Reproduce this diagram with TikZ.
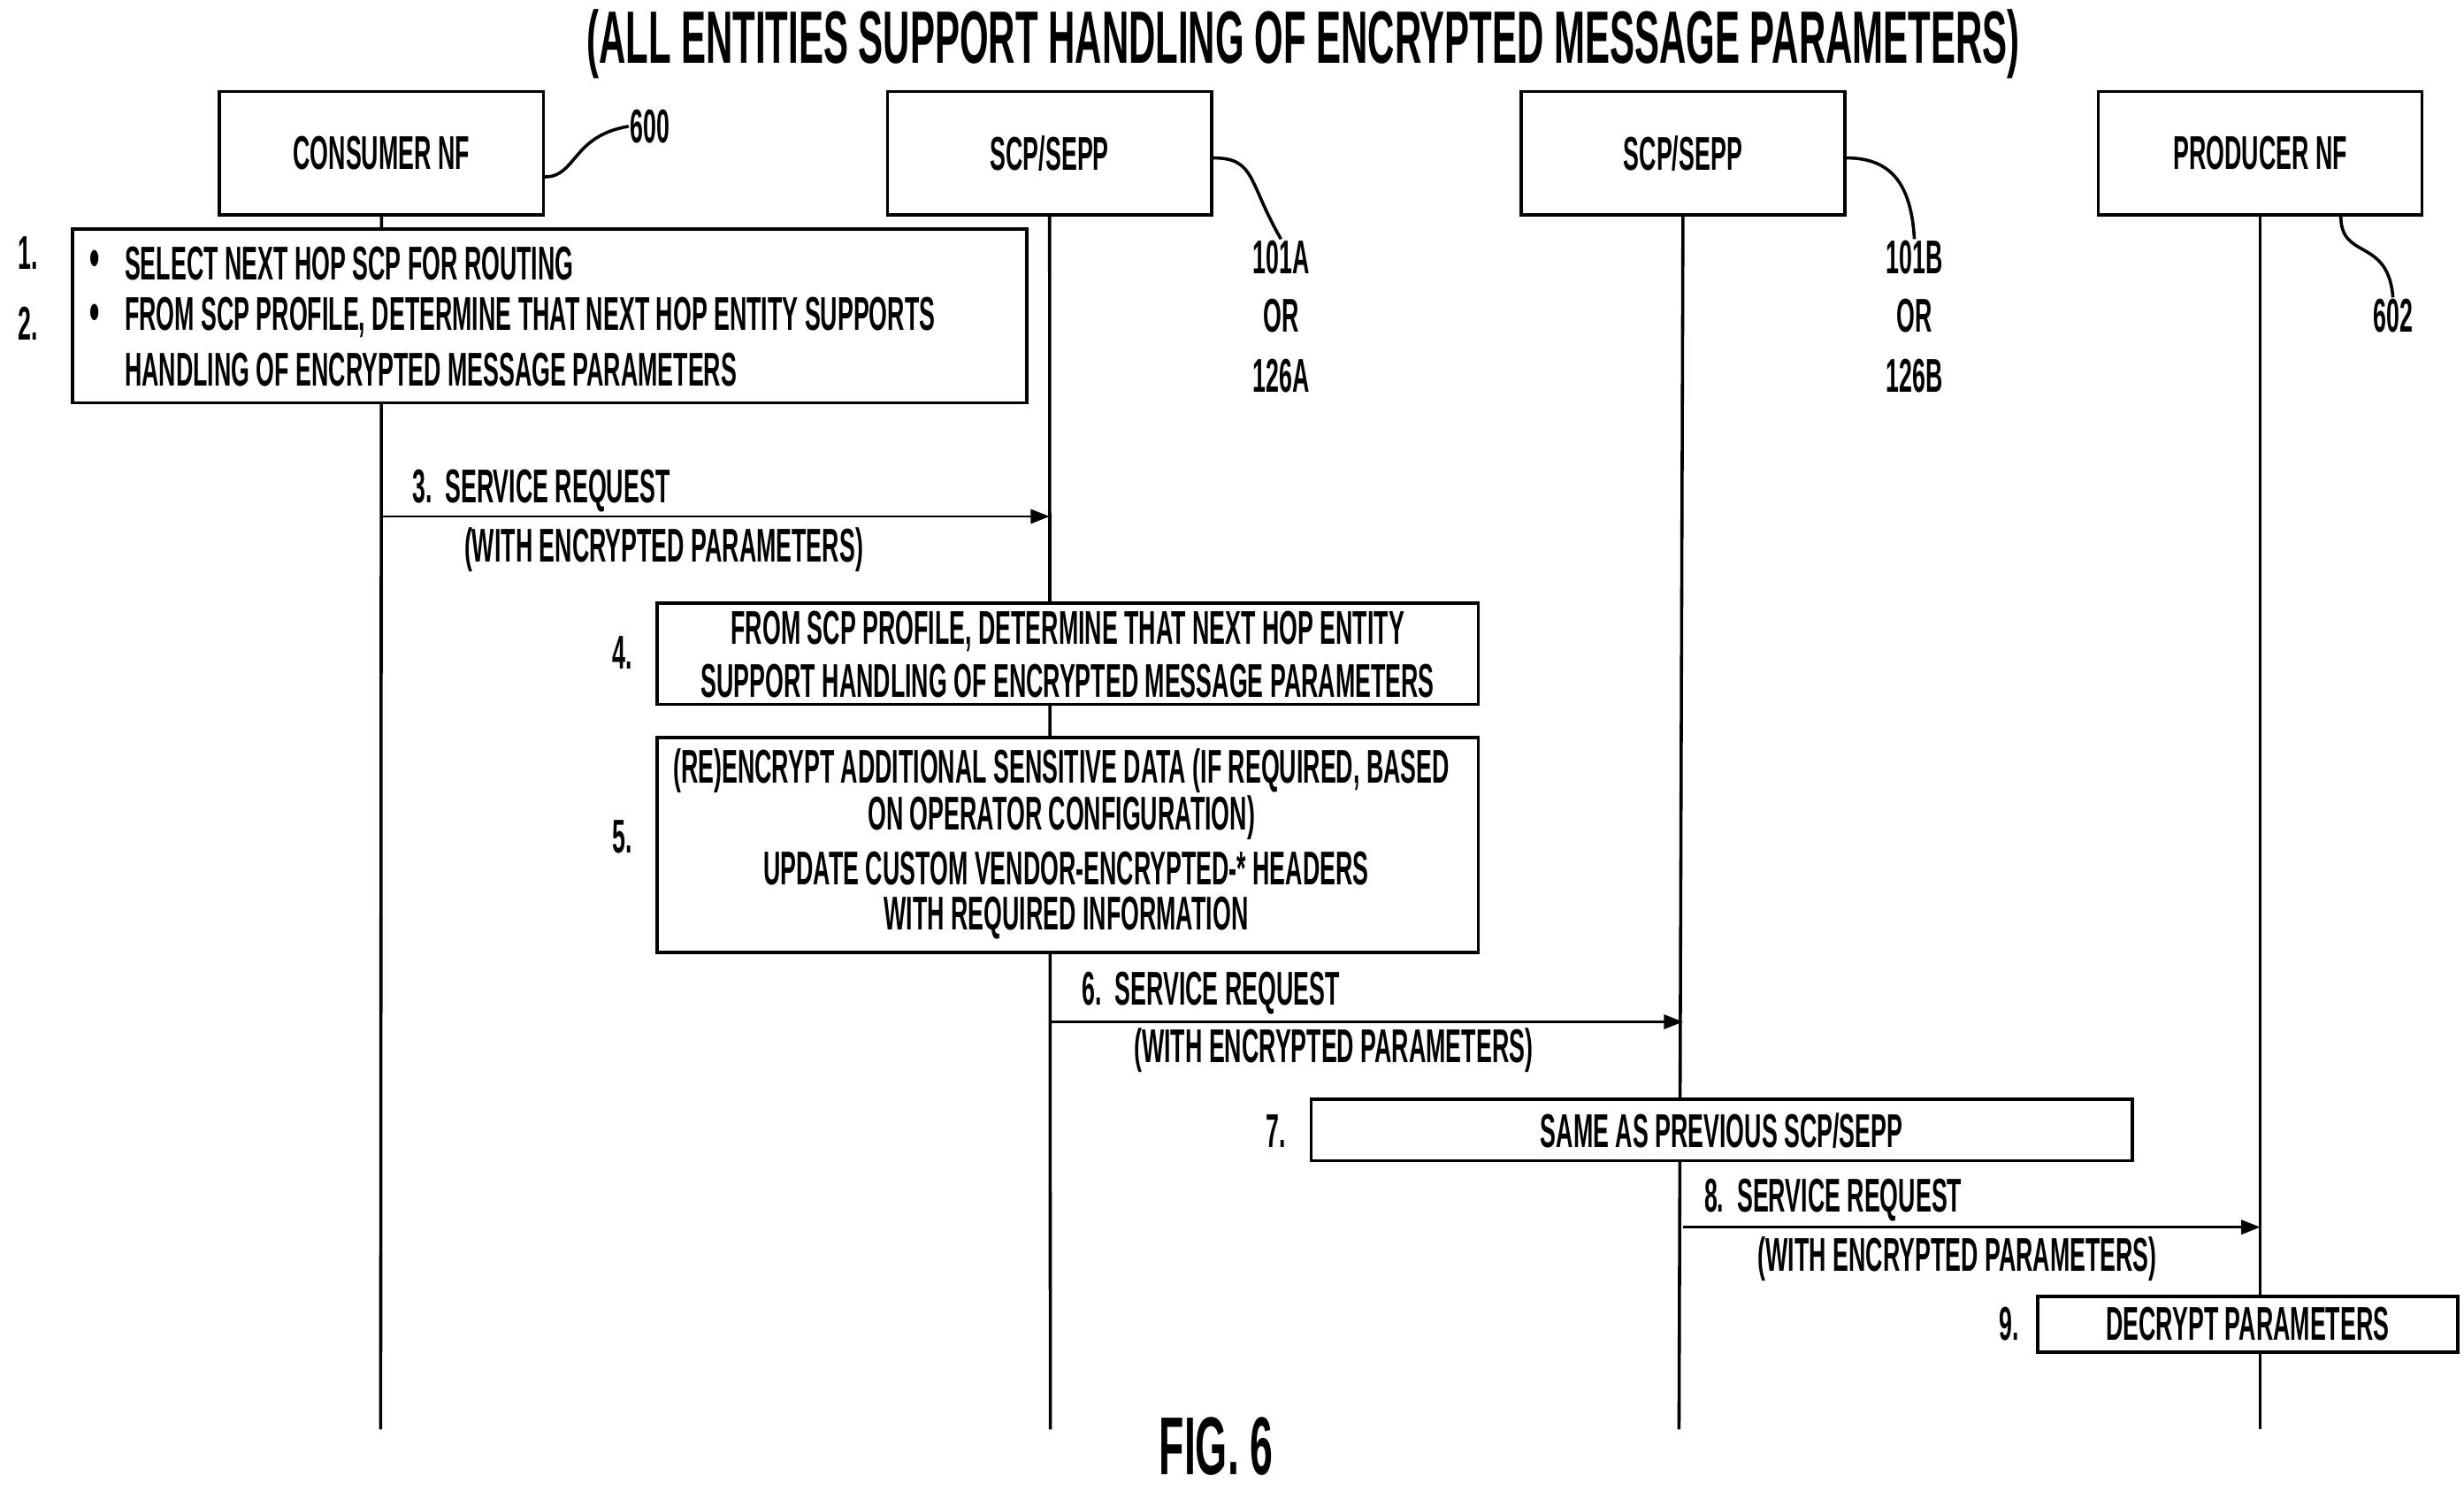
\documentclass[tikz,border=0pt]{standalone}
\usepackage{fontspec}
\setmainfont{Liberation Sans}[FakeStretch=0.5]
\usetikzlibrary{arrows.meta}
\begin{document}
\begin{tikzpicture}[x=1pt,y=-1pt,line width=2pt,
  t/.style={font=\fontsize{30}{30}\selectfont\bfseries,inner sep=0pt},
  box/.style={draw,fill=white,line width=2pt,inner sep=0pt},
  ent/.style={draw,line width=2pt,minimum width=205pt,minimum height=78pt,t},
  msg/.style={-{Triangle[length=12pt,width=9pt]},line width=1.6pt}]
\useasboundingbox (0,0) rectangle (1560,944);
\node[t,font=\fontsize{47}{47}\selectfont\bfseries] (title) at (825,28) {(ALL ENTITIES SUPPORT HANDLING OF ENCRYPTED MESSAGE PARAMETERS)};
\node[ent] (c) at (241.5,97) {CONSUMER NF};
\node[ent] (s1) at (664.5,97) {SCP/SEPP};
\node[ent] (s2) at (1065.5,97) {SCP/SEPP};
\node[ent] (p) at (1431,97) {PRODUCER NF};
\coordinate (ce) at (241,905); \coordinate (s1e) at (665,905);
\coordinate (s2e) at (1063,905); \coordinate (pe) at (1431,905);
\draw (c.south) -- (ce); \draw (s1.south) -- (s1e);
\draw (s2.south) -- (s2e); \draw (p.south) -- (pe);
% reference labels
\node[t,anchor=west] (l600) at (398,80) {600};
\draw (c.east |- 0,112) .. controls (365,112) and (362,86) .. (l600.west);
\node[t] (a1) at (811,163) {101A}; \node[t] at (811,200) {OR}; \node[t] at (811,238) {126A};
\draw (s1.east |- 0,100) .. controls (795,100) and (790,115) .. (a1.north);
\node[t] (b1) at (1212,163) {101B}; \node[t] at (1212,200) {OR}; \node[t] at (1212,238) {126B};
\draw (s2.east |- 0,100) .. controls (1196,100) and (1210,115) .. (b1.north);
\node[t] (l602) at (1515,200) {602};
\draw (1482,137) .. controls (1482,165) and (1512,150) .. (l602.north);
% step 1-2
\node[box,minimum width=604pt,minimum height=110pt] (b12) at (348,200) {};
\node[t] at (18,160) {1.}; \node[t] at (18,205) {2.};
\node[t,font=\fontsize{36}{36}\selectfont\bfseries] at (60,167) {\textbullet};
\node[t,font=\fontsize{36}{36}\selectfont\bfseries] at (60,201) {\textbullet};
\node[t,anchor=west] at (78,167) {SELECT NEXT HOP SCP FOR ROUTING};
\node[t,anchor=west] at (78,201) {FROM SCP PROFILE, DETERMINE THAT NEXT HOP ENTITY SUPPORTS};
\node[t,anchor=west] at (78,234) {HANDLING OF ENCRYPTED MESSAGE PARAMETERS};
% 3
\draw[msg] (c.south |- 0,327) -- (s1.south |- 0,327);
\node[t,anchor=west] at (260,311) {3.\ \ SERVICE REQUEST};
\node[t,anchor=west] at (293,348) {(WITH ENCRYPTED PARAMETERS)};
% 4
\node[box,minimum width=520pt,minimum height=64pt] (b4) at (676,414) {};
\node[t] at (394,413) {4.};
\node[t] at (676,400) {FROM SCP PROFILE, DETERMINE THAT NEXT HOP ENTITY};
\node[t] at (676,431) {SUPPORT HANDLING OF ENCRYPTED MESSAGE PARAMETERS};
% 5
\node[box,minimum width=520pt,minimum height=136pt] (b5) at (676,535) {};
\node[t] at (394,530) {5.};
\node[t] at (672,488) {(RE)ENCRYPT ADDITIONAL SENSITIVE DATA (IF REQUIRED, BASED};
\node[t] at (672,518) {ON OPERATOR CONFIGURATION)};
\node[t] at (675,550) {UPDATE CUSTOM VENDOR-ENCRYPTED-* HEADERS};
\node[t] at (675,581) {WITH REQUIRED INFORMATION};
% 6
\draw[msg] (s1.south |- 0,647) -- (s2.south |- 0,647);
\node[t,anchor=west] at (684,629) {6.\ \ SERVICE REQUEST};
\node[t,anchor=west] at (717,665) {(WITH ENCRYPTED PARAMETERS)};
% 7
\node[box,minimum width=520pt,minimum height=39pt] (b7) at (1090,715.5) {};
\node[t] at (808,716) {7.};
\node[t] at (1090,716) {SAME AS PREVIOUS SCP/SEPP};
% 8
\draw[msg] (s2.south |- 0,777) -- (p.south |- 0,777);
\node[t,anchor=west] at (1078,760) {8.\ \ SERVICE REQUEST};
\node[t,anchor=west] at (1112,797) {(WITH ENCRYPTED PARAMETERS)};
% 9
\node[box,minimum width=266pt,minimum height=35pt] (b9) at (1423,838.5) {};
\node[t] at (1272,838) {9.};
\node[t] at (1423,838) {DECRYPT PARAMETERS};
\node[t,font=\fontsize{52}{52}\selectfont\bfseries] at (770,916) {FIG. 6};
\end{tikzpicture}
\end{document}
